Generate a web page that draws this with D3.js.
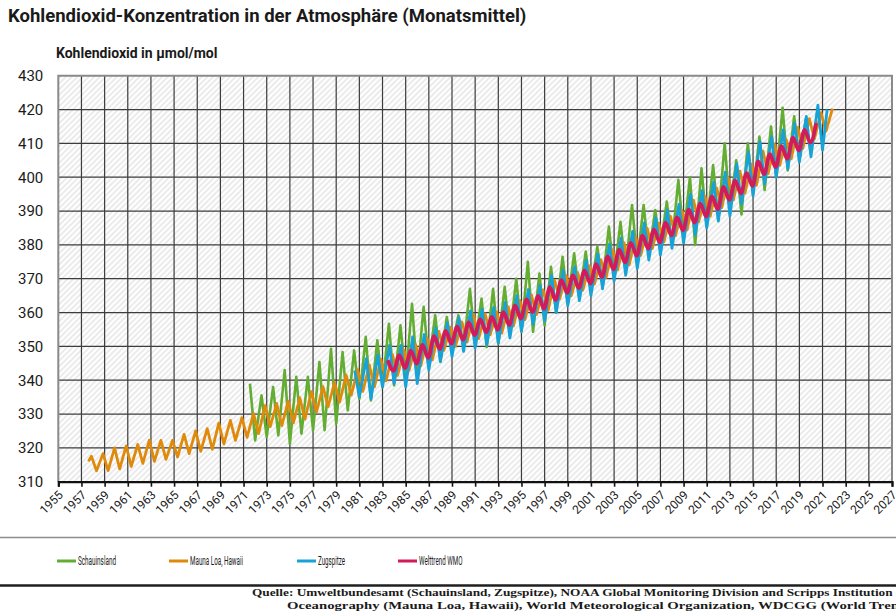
<!DOCTYPE html>
<html>
<head>
<meta charset="utf-8">
<script src="https://cdn.jsdelivr.net/npm/d3@7"></script>
<style>
  body { margin: 0; background: #fff; }
  svg { display: block; font-family: Roboto, "Liberation Sans", Arial, sans-serif; }
</style>
</head>
<body>
<svg id="chart" width="896" height="613"></svg>
<script>

// Werte: pro Jahreszyklus ein Maximum und ein Minimum (µmol/mol)
var maunaLoaYears = d3.range(1958, 2023);
var maunaLoaPeaks = [
  317.5, 318.3, 320.0, 320.6, 321.0, 322.3, 322.2, 322.2, 324.0, 325.0,
  325.7, 327.3, 328.1, 328.9, 330.1, 332.5, 333.1, 333.8, 334.8, 336.6,
  338.1, 339.3, 341.5, 343.1, 344.5, 346.2, 347.6, 348.9, 350.5, 352.3,
  354.4, 355.6, 357.2, 359.3, 359.6, 360.2, 361.7, 363.6, 365.2, 366.7,
  369.5, 370.9, 371.8, 373.8, 375.6, 378.5, 380.6, 382.3, 384.9, 386.4,
  388.5, 390.2, 393.2, 394.2, 396.8, 399.8, 401.8, 403.9, 407.7, 409.7,
  411.2, 414.7, 417.3, 419.1, 420.3];
var maunaLoaTroughs = [
  313.2, 313.3, 313.8, 314.5, 315.4, 316.0, 316.6, 317.3, 318.3, 319.0,
  319.6, 321.2, 322.2, 323.1, 324.2, 326.3, 326.6, 327.4, 328.5, 330.6,
  332.2, 333.6, 335.6, 336.7, 338.0, 339.8, 341.4, 343.0, 344.2, 346.0,
  348.8, 350.0, 351.3, 352.3, 353.5, 353.9, 356.0, 357.9, 359.4, 360.6,
  364.0, 364.9, 366.6, 368.4, 370.3, 372.6, 374.1, 376.9, 378.9, 380.9,
  382.7, 384.4, 386.8, 388.5, 391.0, 393.3, 395.3, 397.6, 401.0, 403.5,
  405.5, 408.5, 411.3, 413.6];
var maunaLoaFirst = [1957.6, 316.0];

var schauinslandYears = d3.range(1971, 2020);
var schauinslandPeaks = [
  339.0, 335.5, 338.0, 343.0, 341.0, 341.0, 345.4, 349.3, 348.3, 348.8,
  352.8, 351.8, 356.7, 356.2, 362.6, 361.7, 359.2, 358.7, 359.2, 367.0,
  364.1, 367.0, 367.6, 370.0, 375.0, 371.5, 373.5, 376.5, 377.5, 378.0,
  379.5, 385.4, 386.8, 391.8, 391.8, 390.3, 392.8, 399.2, 400.0, 402.6,
  403.6, 410.0, 405.0, 410.0, 412.0, 415.0, 420.5, 418.0, 417.0];
var schauinslandTroughs = [
  322.2, 323.2, 323.7, 321.2, 324.2, 325.2, 325.2, 327.1, 331.1, 334.5,
  334.0, 338.0, 338.5, 340.0, 341.0, 345.0, 345.4, 349.8, 349.8, 350.8,
  349.8, 350.8, 353.3, 354.3, 354.3, 356.2, 360.0, 363.0, 364.5, 366.0,
  368.5, 370.5, 372.5, 375.0, 377.0, 379.0, 380.5, 382.5, 380.0, 385.4,
  387.3, 390.5, 389.0, 395.0, 396.2, 400.0, 402.0, 405.0, 407.0];

var zugspitzeYears = d3.range(1980, 2021);
var zugspitzePeaks = [
  342.9, 346.4, 347.5, 350.3, 350.3, 352.8, 353.5, 355.5, 357.0, 358.5,
  360.5, 361.0, 361.5, 363.0, 365.0, 366.8, 368.0, 371.0, 372.5, 373.5,
  375.5, 377.3, 380.2, 382.0, 384.0, 386.5, 388.0, 390.3, 392.0, 395.0,
  396.0, 398.5, 401.5, 404.0, 407.5, 410.5, 412.0, 414.0, 416.0, 418.0,
  421.3];
var zugspitzeTroughs = [
  335.0, 334.5, 338.0, 339.0, 338.0, 339.0, 343.0, 345.5, 347.0, 348.5,
  349.5, 350.5, 351.0, 352.5, 354.5, 356.5, 357.5, 360.0, 362.0, 363.5,
  365.0, 367.0, 369.3, 371.0, 373.0, 375.5, 377.0, 379.0, 380.5, 383.0,
  385.0, 387.0, 388.5, 392.0, 394.5, 398.0, 400.0, 402.5, 404.5, 406.0,
  408.0];
var zugspitzeLast = [2021.4, 420.0];

var wmoYears = d3.range(1983, 2021);
var wmoPeaks = [
  345.9, 347.4, 348.7, 350.4, 353.0, 354.6, 355.8, 357.1, 358.0, 358.7,
  360.1, 362.0, 363.9, 364.9, 367.5, 369.6, 371.0, 372.4, 374.3, 376.6,
  378.6, 380.6, 382.7, 384.5, 386.6, 388.1, 390.4, 392.2, 394.3, 397.1,
  399.0, 401.2, 404.7, 406.8, 409.2, 411.7, 414.0, 416.0];
var wmoTroughs = [
  342.8, 343.6, 344.9, 346.6, 349.2, 350.8, 352.0, 353.3, 354.2, 354.9,
  356.3, 358.2, 360.1, 361.1, 363.7, 365.8, 367.2, 368.6, 370.5, 372.8,
  374.8, 376.8, 378.9, 380.7, 382.8, 384.3, 386.6, 388.4, 390.5, 393.3,
  395.2, 397.4, 400.9, 403.0, 405.4, 407.9, 410.2];

var xTicks = d3.range(1955, 2028, 2);
var yTicks = d3.range(310, 431, 10);

var legendNames = ["Schauinsland", "Mauna Loa, Hawaii", "Zugspitze", "Welttrend WMO"];
var sourceLines = [
  "Quelle: Umweltbundesamt (Schauinsland, Zugspitze), NOAA Global Monitoring Division and Scripps Institution of",
  "Oceanography  (Mauna Loa, Hawaii), World Meteorological Organization, WDCGG (World Trend)"
];

// Peaks/Minima zu einer Linie zusammensetzen (Lage im Jahr laut Grafik)
function zigzag(years, peaks, troughs, peakShift, troughShift) {
  var pts = [];
  years.forEach(function (yr, i) {
    if (peaks[i] != null) pts.push([yr + peakShift, peaks[i]]);
    if (troughs[i] != null) pts.push([yr + troughShift, troughs[i]]);
  });
  return pts;
}

var series = [
  { name: legendNames[0], color: "#62ad32", width: 2.6, curve: d3.curveLinear,
    values: zigzag(schauinslandYears, schauinslandPeaks, schauinslandTroughs, 0.55, 1.0) },
  { name: legendNames[1], color: "#df8a0a", width: 2.8, curve: d3.curveLinear,
    values: [maunaLoaFirst].concat(zigzag(maunaLoaYears, maunaLoaPeaks, maunaLoaTroughs, -0.14, 0.3)) },
  { name: legendNames[2], color: "#17a2d8", width: 2.8, curve: d3.curveLinear,
    values: zigzag(zugspitzeYears, zugspitzePeaks, zugspitzeTroughs, 0.6, 1.0).concat([zugspitzeLast]) },
  { name: legendNames[3], color: "#d31b5b", width: 3.8, curve: d3.curveMonotoneX,
    values: zigzag(wmoYears, wmoPeaks, wmoTroughs, 0.45, 0.95) }
];

var svg = d3.select("#chart");
var plotL = 58.3, plotR = 892, plotT = 75.7, plotB = 481.7;

var x = d3.scaleLinear().domain([1955, 2027]).range([plotL, plotR]);
var y = d3.scaleLinear().domain([310, 430]).range([plotB, plotT]);

// diagonal hatching of the plot area
var defs = svg.append("defs");
defs.append("pattern")
  .attr("id", "hatch")
  .attr("patternUnits", "userSpaceOnUse")
  .attr("width", 4).attr("height", 4)
  .attr("patternTransform", "rotate(45)")
  .append("line")
  .attr("x1", 1).attr("y1", 0).attr("x2", 1).attr("y2", 4)
  .attr("stroke", "#dadada").attr("stroke-width", 1.1);

svg.append("text")
  .attr("x", 8).attr("y", 22)
  .style("font-size", "18.5px").style("font-weight", "bold").attr("fill", "#1a1a1a")
  .text("Kohlendioxid-Konzentration in der Atmosphäre (Monatsmittel)");

svg.append("text")
  .attr("x", 56).attr("y", 58)
  .style("font-size", "14px").style("font-weight", "bold").attr("fill", "#1a1a1a")
  .text("Kohlendioxid in µmol/mol");

svg.append("rect")
  .attr("x", plotL).attr("y", plotT)
  .attr("width", plotR - plotL).attr("height", plotB - plotT)
  .attr("fill", "#fff");
svg.append("rect")
  .attr("x", plotL).attr("y", plotT)
  .attr("width", plotR - plotL).attr("height", plotB - plotT)
  .attr("fill", "url(#hatch)");

// grid
var grid = svg.append("g");
grid.selectAll(".vg")
  .data(xTicks.filter(function (d) { return d > 1955 && d < 2027; }))
  .enter().append("line")
  .attr("x1", function (d) { return x(d); }).attr("x2", function (d) { return x(d); })
  .attr("y1", plotT).attr("y2", plotB)
  .attr("stroke", "#3c3c3c").attr("stroke-width", 1.2);
grid.selectAll(".hg")
  .data(yTicks.filter(function (d) { return d > 310 && d < 430; }))
  .enter().append("line")
  .attr("x1", plotL).attr("x2", plotR)
  .attr("y1", function (d) { return y(d); }).attr("y2", function (d) { return y(d); })
  .attr("stroke", "#3c3c3c").attr("stroke-width", 1.2);

// frame (gray) top, left, right
svg.append("path")
  .attr("d", "M" + plotL + "," + plotB + "V" + plotT + "H" + plotR + "V" + plotB)
  .attr("fill", "none").attr("stroke", "#8a8a8a").attr("stroke-width", 2);

// y axis labels
var yAxis = d3.axisLeft(y).tickValues(yTicks).tickSize(0).tickPadding(15);
var yG = svg.append("g").attr("transform", "translate(" + plotL + ",0)").call(yAxis);
yG.select(".domain").remove();
yG.selectAll("text").style("font-size", "15px").style("font-family", "Roboto, sans-serif").attr("fill", "#1a1a1a");

// x axis
var xAxis = d3.axisBottom(x).tickValues(xTicks).tickSize(5).tickFormat(d3.format("d"));
var xG = svg.append("g").attr("transform", "translate(0," + plotB + ")").call(xAxis);
xG.select(".domain").attr("stroke", "#111").attr("stroke-width", 2.2);
xG.selectAll(".tick line").attr("stroke", "#111").attr("stroke-width", 1.6);
xG.selectAll("text")
  .style("font-size", "12px").style("font-family", "Roboto, sans-serif").attr("fill", "#1a1a1a")
  .attr("text-anchor", "end")
  .attr("dy", null).attr("y", 0)
  .attr("transform", "translate(5,14) rotate(-45)");

// lines
var line = d3.line()
  .x(function (d) { return x(d[0]); })
  .y(function (d) { return y(d[1]); });

svg.append("g").selectAll("path")
  .data(series)
  .enter().append("path")
  .attr("d", function (d) { return line.curve(d.curve)(d.values); })
  .attr("fill", "none")
  .attr("stroke", function (d) { return d.color; })
  .attr("stroke-width", function (d) { return d.width; })
  .attr("stroke-linejoin", "round");

// legend band
svg.append("line").attr("x1", 0).attr("x2", 896).attr("y1", 537.5).attr("y2", 537.5)
  .attr("stroke", "#8c8c8c").attr("stroke-width", 1.5);
svg.append("line").attr("x1", 0).attr("x2", 896).attr("y1", 585.5).attr("y2", 585.5)
  .attr("stroke", "#1f1f1f").attr("stroke-width", 2.4);

var legendX = [57, 169, 297, 398];
var legendTextW = [38, 53, 27, 43.5];
var leg = svg.append("g").selectAll("g")
  .data(series)
  .enter().append("g")
  .attr("transform", function (d, i) { return "translate(" + legendX[i] + ",561)"; });
leg.append("line")
  .attr("x1", 0).attr("x2", 19).attr("y1", 0).attr("y2", 0)
  .attr("stroke", function (d) { return d.color; }).attr("stroke-width", 3);
leg.append("text")
  .attr("x", 21).attr("y", 4)
  .style("font-size", "12px").attr("fill", "#1a1a1a")
  .attr("textLength", function (d, i) { return legendTextW[i]; })
  .attr("lengthAdjust", "spacingAndGlyphs")
  .text(function (d) { return d.name; });

// source
var srcX = [252, 287];
svg.append("g").selectAll("text")
  .data(sourceLines)
  .enter().append("text")
  .attr("x", function (d, i) { return srcX[i]; })
  .attr("y", function (d, i) { return 596 + i * 12.5; })
  .style("font-family", "'Liberation Serif', serif")
  .style("font-size", "9.5px").style("font-weight", "bold").attr("fill", "#1a1a1a")
  .attr("textLength", function (d, i) { return i === 0 ? 655 : 625; })
  .attr("lengthAdjust", "spacingAndGlyphs")
  .text(function (d) { return d; });

</script>
</body>
</html>
